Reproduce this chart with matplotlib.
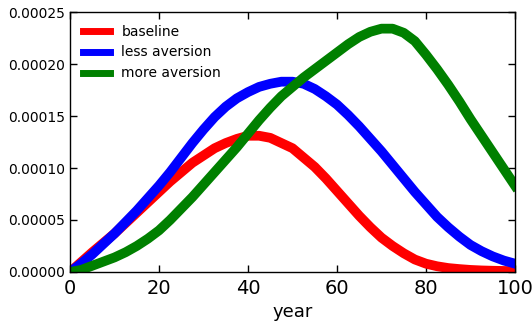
import matplotlib
matplotlib.use("Agg")
import matplotlib.pyplot as plt

years = [0, 2.5, 5, 7.5, 10, 12.5, 15, 17.5, 20, 22.5, 25, 27.5, 30, 32.5, 35, 37.5,
         40, 42.5, 45, 47.5, 50, 52.5, 55, 57.5, 60, 62.5, 65, 67.5, 70, 72.5, 75,
         77.5, 80, 82.5, 85, 87.5, 90, 92.5, 95, 97.5, 100]

baseline = [0.0, 0.0000095, 0.000019, 0.000028, 0.000037, 0.000047, 0.000057, 0.000067,
            0.000077, 0.000087, 0.000096, 0.000105, 0.000112, 0.000119, 0.000124, 0.000128,
            0.000131, 0.000131, 0.000129, 0.000124, 0.000119, 0.000110, 0.000101, 0.000090,
            0.000078, 0.000066, 0.000054, 0.000043, 0.000033, 0.000025, 0.000018,
            0.000012, 0.000008, 0.0000055, 0.0000038, 0.0000028, 0.000002, 0.0000015,
            0.0000012, 0.000001, 0.0000008]
less_aversion = [0.0, 0.000008, 0.000017, 0.000027, 0.000037, 0.000048, 0.000059, 0.000071,
                 0.000083, 0.000096, 0.000110, 0.000124, 0.000137, 0.000149, 0.000159, 0.000167,
                 0.000173, 0.000178, 0.000181, 0.000183, 0.000183, 0.000181, 0.000176, 0.000169,
                 0.000161, 0.000151, 0.000140, 0.000128, 0.000116, 0.000103, 0.000090,
                 0.000077, 0.000065, 0.000053, 0.000043, 0.000034, 0.000026, 0.000020,
                 0.000015, 0.000011, 0.000008]
more_aversion = [0.0, 0.000002, 0.000006, 0.000010, 0.000014, 0.000019, 0.000025, 0.000032,
                 0.000040, 0.000050, 0.000061, 0.000072, 0.000084, 0.000096, 0.000108, 0.000120,
                 0.000133, 0.000146, 0.000158, 0.000169, 0.000178, 0.000187, 0.000195, 0.000203,
                 0.000211, 0.000219, 0.000226, 0.000231, 0.000234, 0.000234, 0.000230,
                 0.000222, 0.000209, 0.000195, 0.000180, 0.000164, 0.000147, 0.000131,
                 0.000115, 0.000099, 0.000083]

series = [("baseline", baseline, "red"),
          ("less aversion", less_aversion, "blue"),
          ("more aversion", more_aversion, "green")]

fig = plt.figure(figsize=(5.32, 3.22), dpi=100)
ax = fig.add_axes([0.1316, 0.1553, 0.8364, 0.8074])

for label, vals, color in series:
    ax.plot(years, vals, color=color, lw=7, label=label, solid_joinstyle="round")

ax.set_xlim(0, 100)
ax.set_ylim(0, 0.00025)
ax.set_xticks([0, 20, 40, 60, 80, 100])
ax.set_yticks([0.0, 0.00005, 0.0001, 0.00015, 0.0002, 0.00025])
ax.set_yticklabels(["%.5f" % v for v in ax.get_yticks()], fontsize=10)
ax.tick_params(axis="x", labelsize=14, pad=5)
ax.tick_params(direction="in", top=True, right=True, length=5, width=1)
ax.set_xlabel("year", fontsize=13)
for s in ax.spines.values():
    s.set_linewidth(1)

leg = ax.legend(loc="upper left", frameon=False, fontsize=10, handlelength=2.0,
                borderaxespad=0.5)
for h in leg.get_lines():
    h.set_linewidth(5)

fig.savefig("out.png", dpi=100)
